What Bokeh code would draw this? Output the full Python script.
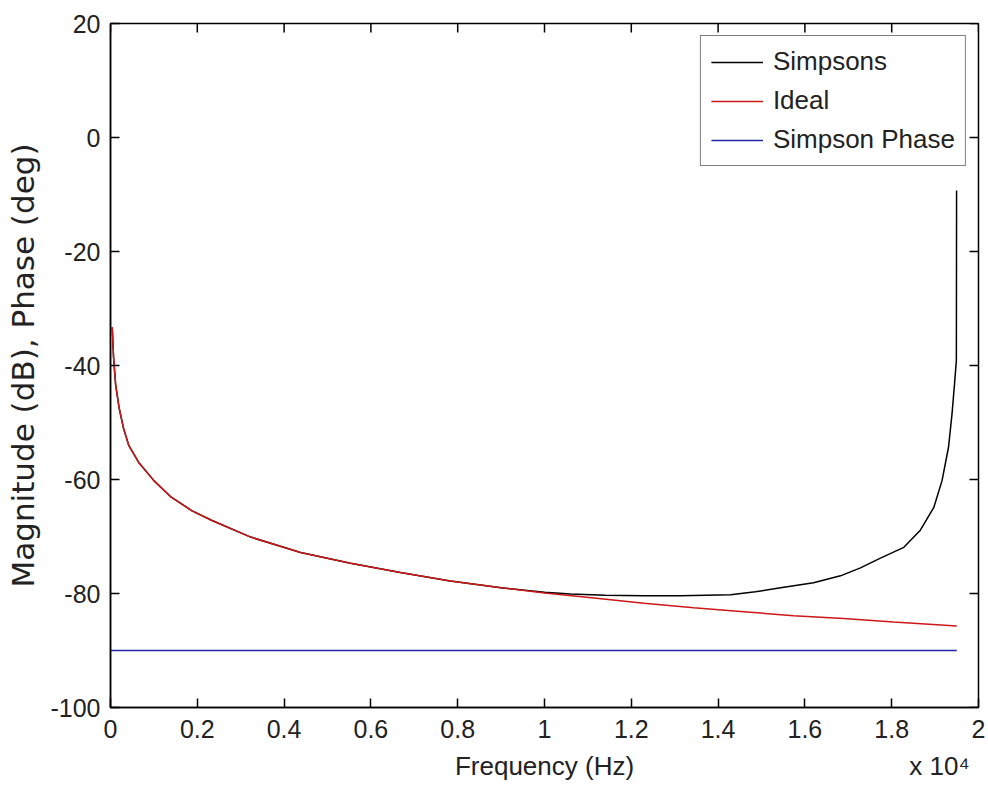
import math
from bokeh.plotting import figure
from bokeh.models import Range1d, Legend, LegendItem, LinearAxis, FixedTicker
from bokeh.embed import file_html
from bokeh.resources import INLINE

# ---- data ----
freq_ideal = [40, 70, 120, 200, 300, 420, 650, 1000, 1400, 1880, 2340, 3230, 4380,
              5530, 6680, 7830, 9000, 10000, 11140, 12290, 13440, 14590, 15740,
              16890, 18040, 19500]
mag_ideal = [-33.3, -38.5, -43.5, -47.5, -51.0, -54.0, -57.0, -60.2, -63.1, -65.5,
             -67.2, -70.1, -72.8, -74.7, -76.3, -77.8, -79.0, -79.9, -80.8, -81.7,
             -82.5, -83.2, -83.9, -84.4, -85.0, -85.7]

freq_simpson = [40, 70, 120, 200, 300, 420, 650, 1000, 1400, 1880, 2340, 3230, 4380,
                5530, 6680, 7830, 9000, 10000, 10600, 11400, 12290, 13130, 14290,
                14860, 15440, 16200, 16820, 17280, 17740, 18280, 18660, 18970,
                19160, 19310, 19390, 19450, 19490, 19495]
mag_simpson = [-33.3, -38.5, -43.5, -47.5, -51.0, -54.0, -57.0, -60.2, -63.1, -65.5,
               -67.2, -70.1, -72.8, -74.7, -76.3, -77.8, -79.0, -79.8, -80.1, -80.3,
               -80.4, -80.4, -80.2, -79.7, -79.0, -78.1, -76.9, -75.5, -73.8, -71.9,
               -68.9, -64.9, -60.2, -54.3, -48.5, -43.0, -39.1, -9.3]

freq_phase = [0, 19500]
phase_simpson = [-90, -90]

x_ticks = [0, 2000, 4000, 6000, 8000, 10000, 12000, 14000, 16000, 18000, 20000]
x_tick_labels = ["0", "0.2", "0.4", "0.6", "0.8", "1", "1.2", "1.4", "1.6", "1.8", "2"]
y_ticks = [-100, -80, -60, -40, -20, 0, 20]
y_tick_labels = ["-100", "-80", "-60", "-40", "-20", "0", "20"]
series_names = ["Simpsons", "Ideal", "Simpson Phase"]
x_title = "Frequency (Hz)"
x_multiplier = "x 10\u2074"
y_title = "Magnitude (dB), Phase (deg)"

X_MIN, X_MAX = 0, 20000
Y_MIN, Y_MAX = -100, 20

FONT = "Liberation Sans"
TEXT = "#222222"

p = figure(width=988, height=792, output_backend="svg", toolbar_location=None,
           x_range=Range1d(X_MIN, X_MAX), y_range=Range1d(Y_MIN, Y_MAX),
           min_border_left=110, min_border_right=10, min_border_top=23,
           min_border_bottom=85, background_fill_color="white",
           border_fill_color="white")
p.grid.visible = False
p.outline_line_color = "black"
p.outline_line_width = 1.5

r_s = p.line(freq_simpson, mag_simpson, line_color="black", line_width=1.5)
r_i = p.line(freq_ideal, mag_ideal, line_color="#cc1818", line_width=1.5)
r_p = p.line(freq_phase, phase_simpson, line_color="#2424a8", line_width=1.5)

# mirrored inward ticks on the top and right edges (box on), clipped by the frame
p.scatter(x_ticks, [Y_MAX] * len(x_ticks), marker="dash", angle=math.pi / 2,
          size=18, line_color="black", line_width=1.5)
p.scatter([X_MAX] * len(y_ticks), y_ticks, marker="dash",
          size=18, line_color="black", line_width=1.5)

xa = p.xaxis[0]
xa.ticker = FixedTicker(ticks=x_ticks)
xa.major_label_overrides = {t: l for t, l in zip(x_ticks, x_tick_labels)}
ya = p.yaxis[0]
ya.ticker = FixedTicker(ticks=y_ticks)
ya.major_label_overrides = {t: l for t, l in zip(y_ticks, y_tick_labels)}
ya.axis_label = y_title

for ax in (xa, ya):
    ax.major_tick_in = 9
    ax.major_tick_out = 0
    ax.minor_tick_in = 0
    ax.minor_tick_out = 0
    ax.axis_line_color = "black"
    ax.axis_line_width = 1.5
    ax.major_tick_line_width = 1.5
    ax.major_label_text_font = FONT
    ax.major_label_text_font_size = "25px"
    ax.major_label_text_color = TEXT
    ax.axis_label_text_font_style = "normal"
    ax.axis_label_text_color = TEXT
xa.major_label_standoff = 12
ya.major_label_standoff = 10
ya.axis_label_text_font = "DejaVu Sans"
ya.axis_label_text_font_size = "31px"
ya.axis_label_standoff = 6

# second row below the tick labels: the x title (centred) and the x10^4 multiplier
title_pos = [(X_MIN + X_MAX) / 2, 19100]
xa2 = LinearAxis(ticker=FixedTicker(ticks=title_pos),
                 major_label_overrides={title_pos[0]: x_title, title_pos[1]: x_multiplier},
                 axis_line_color=None, major_tick_line_color=None,
                 minor_tick_line_color=None, major_tick_in=0, major_tick_out=0,
                 minor_tick_in=0, minor_tick_out=0, major_label_standoff=10,
                 major_label_text_font=FONT, major_label_text_font_size="26px",
                 major_label_text_color=TEXT)
p.add_layout(xa2, "below")

legend = Legend(items=[LegendItem(label=series_names[0], renderers=[r_s]),
                       LegendItem(label=series_names[1], renderers=[r_i]),
                       LegendItem(label=series_names[2], renderers=[r_p])],
                location="top_right")
legend.label_text_font = FONT
legend.label_text_font_size = "26px"
legend.label_text_color = TEXT
legend.border_line_color = "black"
legend.border_line_width = 1.5
legend.glyph_width = 52
legend.glyph_height = 30
legend.label_standoff = 10
legend.spacing = 8
legend.padding = 10
legend.margin = 12
legend.background_fill_alpha = 1
p.add_layout(legend)

open("out.html", "w").write(file_html(p, INLINE))
